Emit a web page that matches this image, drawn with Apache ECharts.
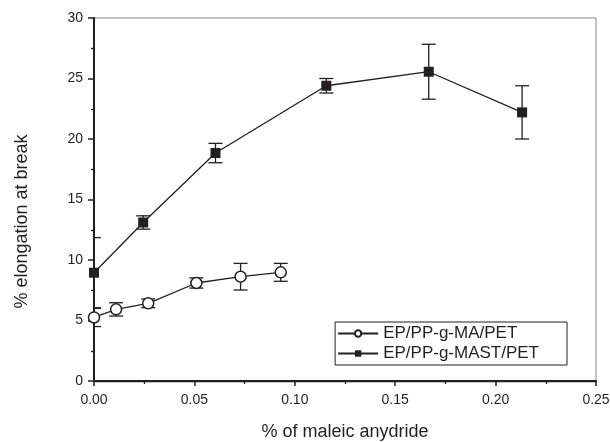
<!DOCTYPE html>
<html>
<head>
    <meta charset="utf-8">
    <script type="text/javascript" src="https://cdn.jsdelivr.net/npm/echarts@6/dist/echarts.min.js"></script>
    <title>elongation at break</title>
</head>
<body style="margin:0">
    <div id="container" style="width:610px;height:442px;"></div>
    <script type="text/javascript">
    // data
    var maX = [0.0, 0.011, 0.027, 0.051, 0.073, 0.093];
    var maY = [5.25, 5.92, 6.42, 8.1, 8.62, 8.98];
    var maErr = [0.75, 0.55, 0.36, 0.42, 1.1, 0.74];

    var mastX = [0.0, 0.0245, 0.0605, 0.1157, 0.1667, 0.2132];
    var mastY = [8.95, 13.1, 18.84, 24.4, 25.56, 22.2];
    var mastErr = [2.9, 0.55, 0.8, 0.6, 2.27, 2.2];

    var seriesNames = ['EP/PP-g-MA/PET', 'EP/PP-g-MAST/PET'];

    function pairs(xs, ys) {
        return xs.map(function (x, i) { return [x, ys[i]]; });
    }
    function errRows(xs, ys, es) {
        return xs.map(function (x, i) { return [x, ys[i] - es[i], ys[i] + es[i]]; });
    }

    var ink = '#231f20';
    var font = 'Liberation Sans';

    // 误差棒
    function renderErr(params, api) {
        var x = api.value(0);
        var lo = api.coord([x, api.value(1)]);
        var hi = api.coord([x, api.value(2)]);
        var w = 7;
        var st = { stroke: ink, lineWidth: 1.3 };
        return {
            type: 'group',
            children: [
                { type: 'line', shape: { x1: lo[0], y1: lo[1], x2: hi[0], y2: hi[1] }, style: st },
                { type: 'line', shape: { x1: lo[0] - w, y1: lo[1], x2: lo[0] + w, y2: lo[1] }, style: st },
                { type: 'line', shape: { x1: hi[0] - w, y1: hi[1], x2: hi[0] + w, y2: hi[1] }, style: st }
            ]
        };
    }

    var myChart = echarts.init(document.getElementById('container'));

    var option = {
        backgroundColor: '#fff',
        animation: false,
        grid: {
            left: 94, right: 14, top: 18, bottom: 61,
            outerBoundsMode: 'none',
            show: true, borderColor: '#888', borderWidth: 1
        },
        legend: {
            data: seriesNames,
            orient: 'vertical',
            right: 43,
            bottom: 77,
            borderColor: ink,
            borderWidth: 1,
            padding: [3, 28, 3, 2],
            itemGap: 3,
            itemWidth: 40,
            itemHeight: 8,
            textStyle: { fontFamily: font, fontSize: 17, color: ink },
            inactiveColor: ink
        },
        xAxis: [{
            type: 'value',
            min: 0, max: 0.25, interval: 0.05,
            name: '% of maleic anydride',
            nameLocation: 'middle',
            nameGap: 42,
            nameTextStyle: { fontFamily: font, fontSize: 18, color: ink },
            axisLine: { onZero: false, lineStyle: { color: ink, width: 2 } },
            axisTick: { length: 5, lineStyle: { color: ink, width: 1.5 } },
            minorTick: { show: true, splitNumber: 2, length: 3, lineStyle: { color: ink, width: 1.3 } },
            axisLabel: {
                formatter: function (v) { return v.toFixed(2); },
                fontFamily: font, fontSize: 14, color: ink, margin: 12
            },
            splitLine: { show: false }
        }, {
            type: 'value', position: 'top',
            min: 0, max: 0.25,
            axisLine: { show: true, lineStyle: { color: ink, width: 1.3 } },
            axisTick: { show: false }, axisLabel: { show: false }, splitLine: { show: false }
        }],
        yAxis: [{
            type: 'value',
            min: 0, max: 30, interval: 5,
            name: '% elongation at break',
            nameLocation: 'middle',
            nameGap: 63,
            nameTextStyle: { fontFamily: font, fontSize: 18, color: ink, padding: [0, 44, 0, 0] },
            axisLine: { onZero: false, lineStyle: { color: ink, width: 2 } },
            axisTick: { length: 6, lineStyle: { color: ink, width: 1.5 } },
            minorTick: { show: true, splitNumber: 2, length: 3, lineStyle: { color: ink, width: 1.3 } },
            axisLabel: { fontFamily: font, fontSize: 14, color: ink, margin: 11 },
            splitLine: { show: false }
        }],
        series: [{
            type: 'custom',
            renderItem: renderErr,
            data: errRows(maX, maY, maErr),
            encode: { x: 0, y: [1, 2] },
            clip: true,
            z: 2
        }, {
            type: 'custom',
            renderItem: renderErr,
            data: errRows(mastX, mastY, mastErr),
            encode: { x: 0, y: [1, 2] },
            clip: true,
            z: 2
        }, {
            name: seriesNames[0],
            type: 'line',
            data: pairs(maX, maY),
            symbol: 'circle',
            symbolSize: 11,
            clip: false,
            lineStyle: { color: ink, width: 1.3 },
            itemStyle: { color: '#fff', borderColor: ink, borderWidth: 1.5 },
            z: 3
        }, {
            name: seriesNames[1],
            type: 'line',
            data: pairs(mastX, mastY),
            symbol: 'rect',
            symbolSize: 10,
            clip: false,
            lineStyle: { color: ink, width: 1.3 },
            itemStyle: { color: ink, borderColor: ink, borderWidth: 0 },
            z: 3
        }]
    };

    myChart.setOption(option);
    </script>
</body>
</html>
